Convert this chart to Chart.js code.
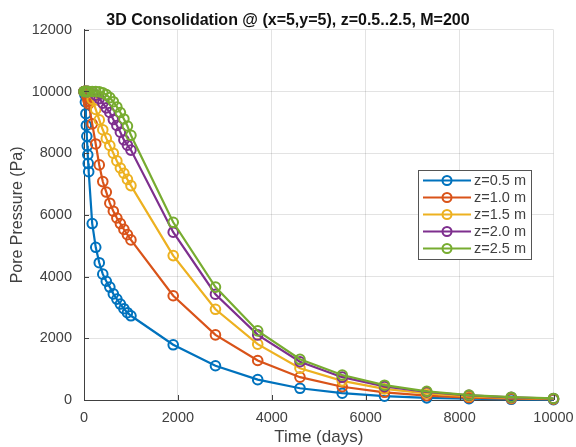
<!DOCTYPE html>
<html>
<head>
<meta charset="utf-8">
<script src="https://cdn.jsdelivr.net/npm/chart.js@4.4.1/dist/chart.umd.min.js"></script>
<style>
  html, body { margin: 0; padding: 0; background: #ffffff; }
  #wrap { width: 576px; height: 447px; }
</style>
</head>
<body>
<div id="wrap"><canvas id="c" width="576" height="447"></canvas></div>
<script>
// ---- Data ----
const days = [0,10,20,30,40,50,60,70,80,90,100,175,250,325,400,475,550,625,700,775,850,925,1000,1900,2800,3700,4600,5500,6400,7300,8200,9100,10000];
const seriesLabels = ["z=0.5 m", "z=1.0 m", "z=1.5 m", "z=2.0 m", "z=2.5 m"];
const z05 = [10000,10000,9890,9660,9280,8900,8550,8240,7950,7670,7400,5720,4950,4450,4080,3850,3660,3440,3270,3110,2960,2830,2730,1790,1110,660,380,220,125,70,40,22,12];
const z10 = [10000,10000,10000,9990,9960,9920,9870,9820,9760,9680,9600,8950,8300,7620,7080,6740,6380,6120,5900,5720,5530,5360,5190,3380,2110,1280,740,430,250,140,80,45,25];
const z15 = [10000,10000,10000,10000,10000,10000,9998,9995,9990,9980,9970,9750,9420,9080,8760,8480,8250,8000,7750,7520,7350,7150,6950,4680,2940,1810,1030,620,360,210,120,70,40];
const z20 = [10000,10000,10000,10000,10000,10000,10000,10000,10000,10000,10000,9990,9880,9770,9620,9470,9320,9090,8900,8680,8430,8260,8100,5440,3430,2110,1240,740,440,260,150,85,48];
const z25 = [10000,10000,10000,10000,10000,10000,10000,10000,10000,10000,10000,10000,10000,9990,9960,9900,9800,9670,9500,9320,9110,8880,8580,5760,3660,2240,1320,810,480,280,160,90,50];
const xTicks = [0, 2000, 4000, 6000, 8000, 10000];
const yTicks = [0, 2000, 4000, 6000, 8000, 10000, 12000];
const chartTitle = "3D Consolidation @ (x=5,y=5), z=0.5..2.5, M=200";
const xTitle = "Time (days)";
const yTitle = "Pore Pressure (Pa)";

// ---- Styles ----
const colors = ["#0072BD", "#D95319", "#EDB120", "#7E2F8E", "#77AC30"];
const FONT = "'Liberation Sans', Arial, Helvetica, sans-serif";
const TXT = "#404040";
const AXIS = "#404040";

const allSeries = [z05, z10, z15, z20, z25];
const datasets = allSeries.map((vals, i) => ({
  label: seriesLabels[i],
  data: days.map((d, k) => ({ x: d, y: vals[k] })),
  borderColor: colors[i],
  backgroundColor: colors[i],
  borderWidth: 2.2,
  pointStyle: 'circle',
  pointRadius: 4.8,
  pointBorderWidth: 2,
  pointBorderColor: colors[i],
  pointBackgroundColor: 'rgba(0,0,0,0)',
  tension: 0,
  clip: false,
  order: 5 - i
}));

const innerTicks = {
  id: 'innerTicks',
  afterDatasetsDraw(chart) {
    const ctx = chart.ctx;
    const xs = chart.scales.x, ys = chart.scales.y;
    const a = chart.chartArea;
    ctx.save();
    ctx.strokeStyle = AXIS;
    ctx.lineWidth = 1;
    ctx.beginPath();
    xTicks.forEach(v => {
      const px = Math.round(xs.getPixelForValue(v)) + 0.5;
      ctx.moveTo(px, a.bottom); ctx.lineTo(px, a.bottom - 5);
    });
    yTicks.forEach(v => {
      const py = Math.round(ys.getPixelForValue(v)) + 0.5;
      ctx.moveTo(a.left, py); ctx.lineTo(a.left + 5, py);
    });
    ctx.stroke();
    ctx.restore();
  }
};

const boxLegend = {
  id: 'boxLegend',
  afterDraw(chart) {
    const ctx = chart.ctx;
    const bx = 418.5, by = 170.5, bw = 113, bh = 89;
    ctx.save();
    ctx.fillStyle = '#ffffff';
    ctx.fillRect(bx, by, bw, bh);
    ctx.strokeStyle = '#555555';
    ctx.lineWidth = 1;
    ctx.strokeRect(bx, by, bw, bh);
    ctx.font = "14.5px " + FONT;
    ctx.textBaseline = 'middle';
    ctx.textAlign = 'left';
    chart.data.datasets.forEach((ds, i) => {
      const y = 180.5 + i * 17;
      ctx.strokeStyle = ds.borderColor;
      ctx.lineWidth = 2.2;
      ctx.beginPath();
      ctx.moveTo(423, y); ctx.lineTo(471, y);
      ctx.stroke();
      ctx.lineWidth = 2;
      ctx.beginPath();
      ctx.arc(447, y, 4.5, 0, Math.PI * 2);
      ctx.stroke();
      ctx.fillStyle = TXT;
      ctx.fillText(ds.label, 474, y + 0.5);
    });
    ctx.restore();
  }
};

new Chart(document.getElementById('c'), {
  type: 'line',
  data: { datasets },
  options: {
    responsive: false,
    animation: false,
    events: [],
    layout: { padding: { left: 0, right: 0, top: 0, bottom: 0 } },
    plugins: {
      legend: { display: false },
      tooltip: { enabled: false },
      title: {
        display: true,
        text: chartTitle,
        color: '#111111',
        font: { family: FONT, size: 16, weight: 'bold', lineHeight: 1.1 },
        padding: { top: 12.2, bottom: 0 }
      }
    },
    scales: {
      x: {
        type: 'linear',
        min: 0, max: 10000,
        afterBuildTicks(s) { s.ticks = xTicks.map(v => ({ value: v })); },
        afterFit(s) { s.height = 47; s.paddingRight = 22.5; },
        ticks: {
          color: TXT,
          font: { family: FONT, size: 14.5 },
          padding: 9.5,
          maxRotation: 0,
          callback: v => String(v)
        },
        grid: { color: 'rgba(0,0,0,0.11)', lineWidth: 1, drawTicks: false },
        border: { display: true, color: AXIS, width: 1 },
        title: {
          display: true,
          text: xTitle,
          color: TXT,
          font: { family: FONT, size: 17, lineHeight: 1.1 },
          padding: { top: 0, bottom: 0 }
        }
      },
      y: {
        type: 'linear',
        min: 0, max: 12000,
        afterBuildTicks(s) { s.ticks = yTicks.map(v => ({ value: v })); },
        afterFit(s) { s.width = 84; },
        ticks: {
          color: TXT,
          font: { family: FONT, size: 14.5 },
          padding: 12,
          callback: v => String(v)
        },
        grid: { color: 'rgba(0,0,0,0.11)', lineWidth: 1, drawTicks: false },
        border: { display: true, color: AXIS, width: 1 },
        title: {
          display: true,
          text: yTitle,
          color: TXT,
          font: { family: FONT, size: 16, lineHeight: 1.2 },
          padding: { top: 8, bottom: 0 }
        }
      }
    }
  },
  plugins: [innerTicks, boxLegend]
});
</script>
</body>
</html>
